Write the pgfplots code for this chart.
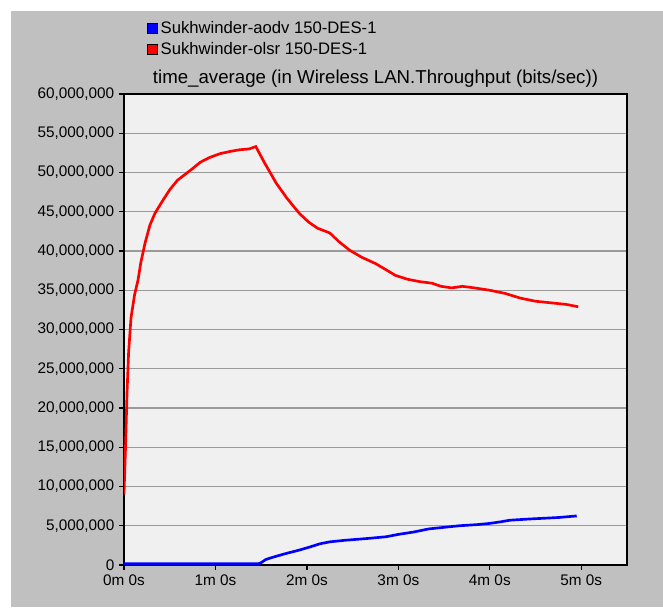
\documentclass[border=0pt]{standalone}
\usepackage{pgfplots}
\pgfplotsset{compat=1.18}
\usepackage{fontspec}
\setmainfont{Liberation Sans}
\definecolor{bgg}{HTML}{C0C0C0}
\definecolor{plotbg}{HTML}{F0F0F0}
\definecolor{gridg}{HTML}{9A9A9A}
\begin{document}
\begin{tikzpicture}[x=0.75pt,y=0.75pt]
\fill[white] (-124,-42) rectangle (539,565);
\fill[bgg] (-113,-42) rectangle (539,554);
\begin{axis}[
  at={(0,0)}, anchor=south west,
  scale only axis, width=377.25pt, height=353.25pt,
  xmin=0, xmax=330, ymin=0, ymax=60000000,
  axis background/.style={fill=plotbg},
  xtick={0,60,120,180,240,300},
  xticklabels={0m 0s,1m 0s,2m 0s,3m 0s,4m 0s,5m 0s},
  ytick distance=5000000,
  scaled y ticks=false,
  /pgf/number format/.cd, fixed, precision=0, 1000 sep={,}, assume math mode=true,
  /pgfplots/.cd,
  tick label style={font=\fontsize{11.5pt}{13pt}\selectfont, black},
  tick align=outside, xtick pos=bottom, ytick pos=left,
  major tick length=3.75pt,
  tick style={black, line width=0.9pt},
  axis line style={black, line width=1.4pt},
  ymajorgrids, grid style={gridg, line width=0.9pt},
  title={time\_average (in Wireless LAN.Throughput (bits/sec))},
  title style={at={(0.5,1)}, anchor=south, yshift=-4.5pt, font=\fontsize{14pt}{15pt}\selectfont},
  legend style={at={(0.0457,1.16)}, anchor=north west, draw=none, fill=none,
    font=\fontsize{12.5pt}{14pt}\selectfont, row sep=1pt, inner sep=0pt},
  legend cell align=left,
  legend image code/.code={\draw[#1, fill, draw=black, line width=0.6pt] (0pt,-3.7pt) rectangle (7.5pt,3.7pt);},
]
\addplot[blue, line width=2pt] coordinates {
(0,150000)(88,150000)(90,300000)(93,700000)(97,950000)(105,1400000)(115,1900000)
(122,2300000)(128.5,2700000)(135,2950000)(145,3150000)(161,3400000)(172,3600000)
(180,3900000)(190,4200000)(200,4600000)(210,4800000)(220,5000000)(232,5150000)
(240,5300000)(247,5500000)(253,5700000)(265,5850000)(275,5950000)(285,6050000)(297,6250000)
};
\addlegendentry{Sukhwinder-aodv 150-DES-1}
\addplot[red, line width=2pt] coordinates {
(0,9000000)(1,15000000)(2,22000000)(3,27000000)(4.6,31500000)(7,34500000)(9.2,36300000)
(11,38500000)(13.8,41000000)(17,43300000)(20.3,44800000)(25,46300000)(30,47800000)
(35,49000000)(41,49900000)(45,50500000)(50,51300000)(56,51900000)(63,52400000)
(70,52700000)(76,52900000)(82,53000000)(86.5,53300000)(92,51300000)(100,48600000)
(107,46700000)(115,44800000)(121,43700000)(127,42900000)(135,42300000)(141,41200000)
(148,40100000)(156,39200000)(165,38400000)(172,37600000)(178,36900000)(186,36400000)
(194,36100000)(202,35900000)(208,35500000)(215,35300000)(222,35500000)(230,35300000)
(240,35000000)(250,34600000)(260,34000000)(270,33600000)(280,33400000)(290,33200000)
(298,32900000)
};
\addlegendentry{Sukhwinder-olsr 150-DES-1}
\end{axis}
\end{tikzpicture}
\end{document}
